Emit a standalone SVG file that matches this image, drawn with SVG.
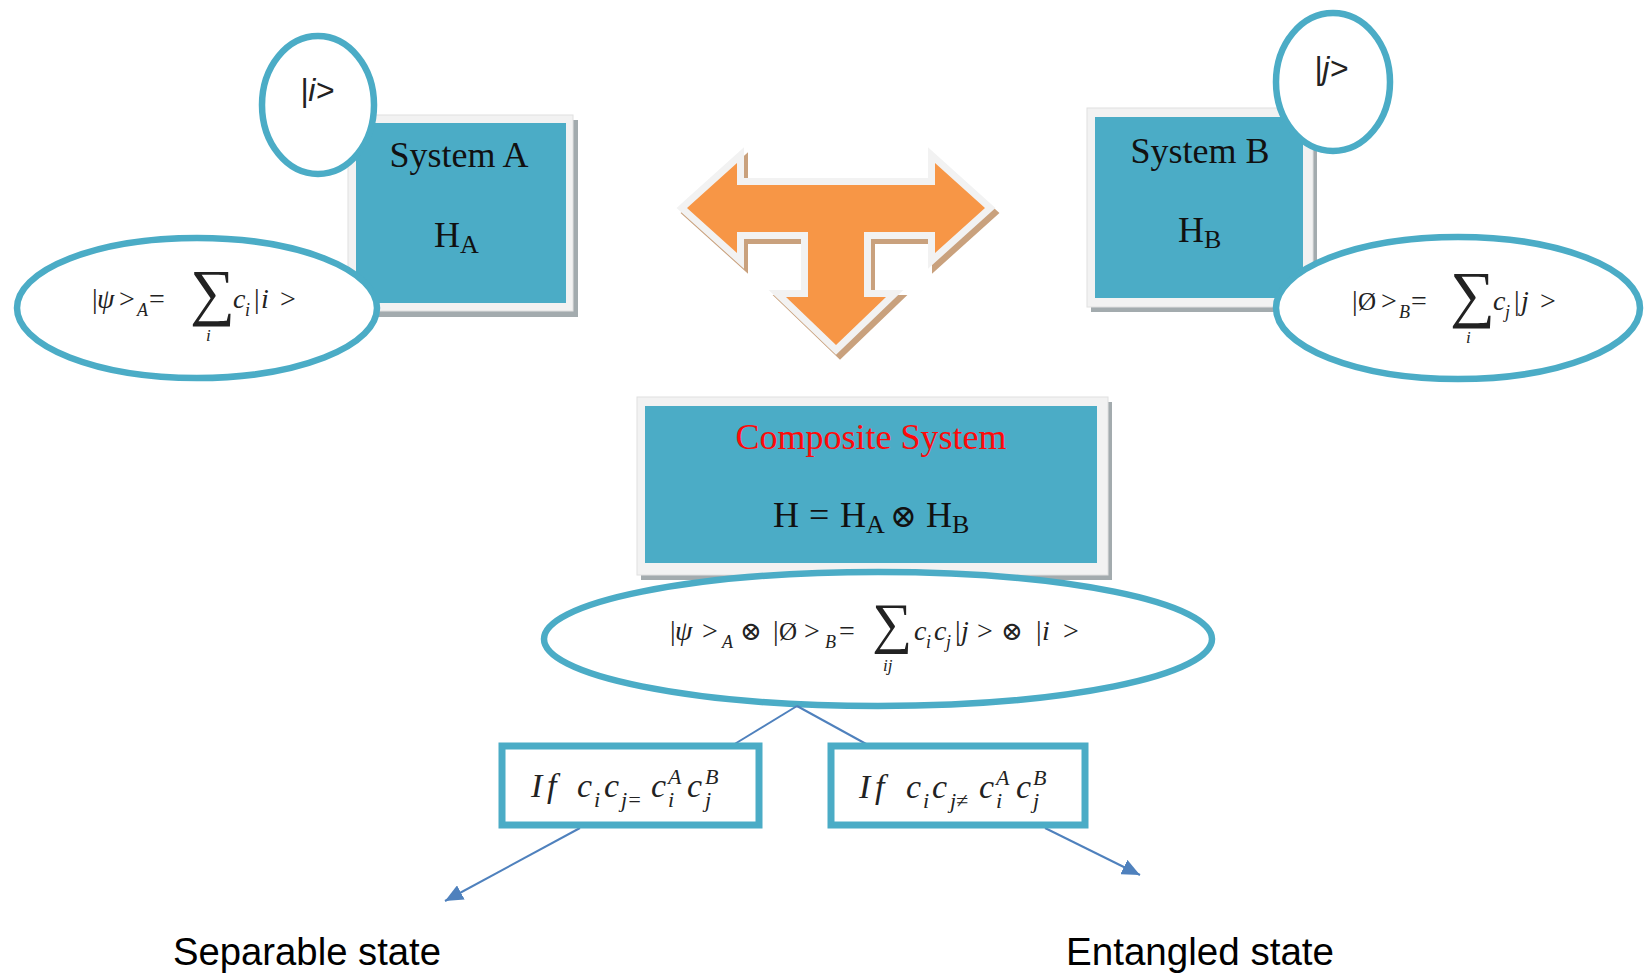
<svg xmlns="http://www.w3.org/2000/svg" width="1647" height="977" viewBox="0 0 1647 977">
<defs>
<style>
.frame{fill:#f2f2f2;stroke:#e0e0e0;stroke-width:1}
.shadow{fill:#a3abae}
.teal{fill:#4BACC6}
.oval{fill:#fff;stroke:#4BACC6;stroke-width:6.5}
.box{fill:#fff;stroke:#4BACC6;stroke-width:7}
.title{font-family:"Liberation Serif","DejaVu Serif",serif;font-size:36px;fill:#111}
.math{font-family:"Liberation Serif","DejaVu Serif",serif;font-style:italic;fill:#222}
.up{font-style:normal}
.ket{font-family:"Liberation Sans","DejaVu Sans",sans-serif;font-style:italic;font-size:32px;fill:#222}
.label{font-family:"Liberation Sans","DejaVu Sans",sans-serif;font-size:38px;fill:#000}
.conn{stroke:#4F81BD;stroke-width:2;fill:none}
</style>
<marker id="ah" viewBox="0 0 18 16" refX="18" refY="8" markerWidth="18" markerHeight="16" markerUnits="userSpaceOnUse" orient="auto">
<path d="M0,0 L18,8 L0,16 Z" fill="#4F81BD"/>
</marker>
</defs>
<rect width="1647" height="977" fill="#fff"/>

<g id="arrow-T">
<path d="M687,208 L737,163 L737,185 L935,185 L935,163 L985,208 L935,253 L935,232 L864,232 L864,297 L886,297 L836,345 L786,297 L808,297 L808,232 L737,232 L737,253 Z" transform="translate(4,5)" fill="#c9a17d" stroke="#c9a17d" stroke-width="14" stroke-linejoin="miter"/>
<path d="M687,208 L737,163 L737,185 L935,185 L935,163 L985,208 L935,253 L935,232 L864,232 L864,297 L886,297 L836,345 L786,297 L808,297 L808,232 L737,232 L737,253 Z" fill="#F79646" stroke="#f2f2f2" stroke-width="14" stroke-linejoin="miter" paint-order="stroke"/>
</g>

<g id="system-a">
<rect class="shadow" x="352" y="120" width="226" height="197"/>
<rect class="frame" x="348" y="115" width="225" height="196"/>
<rect class="teal" x="356" y="123" width="210" height="180"/>
<text class="title" x="459" y="167" text-anchor="middle">System A</text>
<text class="title"><tspan x="434" y="247">H</tspan><tspan x="460" y="253" font-size="26">A</tspan></text>
</g>

<g id="ket-i">
<ellipse class="oval" cx="318" cy="105" rx="56" ry="69"/>
<text class="ket" x="300" y="101">|i&gt;</text>
</g>

<g id="psi-a">
<ellipse class="oval" cx="197" cy="308" rx="180" ry="70"/>
<text class="math" font-size="28"><tspan x="92" y="308" class="up">|</tspan><tspan x="97">ψ</tspan><tspan x="119" class="up">&gt;</tspan><tspan x="137" y="316" font-size="18">A</tspan><tspan x="149" y="308" class="up">=</tspan><tspan x="190" y="313" class="up" font-size="63">∑</tspan><tspan x="206" y="341" font-size="17">i</tspan><tspan x="233" y="308">c</tspan><tspan x="245" y="316" font-size="18">i</tspan><tspan x="254" y="308" class="up">|</tspan><tspan x="261">i</tspan><tspan x="280" class="up">&gt;</tspan></text>
</g>

<g id="system-b">
<rect class="shadow" x="1091" y="113" width="226" height="199"/>
<rect class="frame" x="1087" y="108" width="226" height="199"/>
<rect class="teal" x="1095" y="117" width="208" height="181"/>
<text class="title" x="1200" y="163" text-anchor="middle">System B</text>
<text class="title"><tspan x="1178" y="242">H</tspan><tspan x="1204" y="248" font-size="26">B</tspan></text>
</g>

<g id="ket-j">
<ellipse class="oval" cx="1333" cy="82" rx="57" ry="69"/>
<text class="ket" x="1314" y="79">|j&gt;</text>
</g>

<g id="phi-b">
<ellipse class="oval" cx="1458" cy="308" rx="182" ry="71"/>
<text class="math" font-size="28"><tspan x="1352" y="310" class="up">|</tspan><tspan x="1358" class="up" font-size="25">Ø</tspan><tspan x="1381" class="up">&gt;</tspan><tspan x="1399" y="318" font-size="18">B</tspan><tspan x="1411" y="310" class="up">=</tspan><tspan x="1450" y="315" class="up" font-size="63">∑</tspan><tspan x="1466" y="343" font-size="17">i</tspan><tspan x="1493" y="310">c</tspan><tspan x="1505" y="318" font-size="18">j</tspan><tspan x="1514" y="310" class="up">|</tspan><tspan x="1521">j</tspan><tspan x="1540" class="up">&gt;</tspan></text>
</g>

<g id="composite">
<rect class="shadow" x="641" y="402" width="471" height="178"/>
<rect class="frame" x="637" y="397" width="471" height="178"/>
<rect class="teal" x="645" y="406" width="452" height="157"/>
<text class="title" x="871" y="449" text-anchor="middle" style="fill:#ff0a0a">Composite System</text>
<text class="title"><tspan x="773" y="527">H</tspan><tspan x="809">=</tspan><tspan x="840">H</tspan><tspan x="866" y="533" font-size="26">A</tspan><tspan x="890" y="527" font-size="32">⊗</tspan><tspan x="926">H</tspan><tspan x="952" y="533" font-size="26">B</tspan></text>
</g>

<g id="product-state">
<ellipse class="oval" cx="878" cy="639" rx="334" ry="67"/>
<text class="math" font-size="28"><tspan x="670" y="640" class="up">|</tspan><tspan x="675">ψ</tspan><tspan x="702" class="up">&gt;</tspan><tspan x="722" y="648" font-size="18">A</tspan><tspan x="740" y="640" class="up" font-size="26">⊗</tspan><tspan x="773" class="up">|</tspan><tspan x="779" class="up" font-size="25">Ø</tspan><tspan x="804" class="up">&gt;</tspan><tspan x="825" y="648" font-size="18">B</tspan><tspan x="839" y="640" class="up">=</tspan><tspan x="872" y="642" class="up" font-size="56">∑</tspan><tspan x="883" y="671" font-size="17">ij</tspan><tspan x="914" y="640">c</tspan><tspan x="926" y="648" font-size="18">i</tspan><tspan x="934" y="640">c</tspan><tspan x="946" y="648" font-size="18">j</tspan><tspan x="955" y="640" class="up">|</tspan><tspan x="961">j</tspan><tspan x="977" class="up">&gt;</tspan><tspan x="1001" class="up" font-size="26">⊗</tspan><tspan x="1036" class="up">|</tspan><tspan x="1042">i</tspan><tspan x="1063" class="up">&gt;</tspan></text>
</g>

<g id="connectors">
<line class="conn" x1="797" y1="706" x2="733" y2="745"/>
<line class="conn" x1="797" y1="706" x2="868" y2="745"/>
<line class="conn" x1="580" y1="828" x2="445" y2="901" marker-end="url(#ah)"/>
<line class="conn" x1="1045" y1="828" x2="1140" y2="875" marker-end="url(#ah)"/>
</g>

<g id="if-separable">
<rect class="box" x="502" y="746" width="257" height="79"/>
<text class="math" font-size="34"><tspan x="531" y="797">I</tspan><tspan x="547">f</tspan><tspan x="577">c</tspan><tspan x="594" y="807" font-size="22">i</tspan><tspan x="604" y="797">c</tspan><tspan x="621" y="807" font-size="22">j=</tspan><tspan x="651" y="797">c</tspan><tspan x="668" y="784" font-size="22">A</tspan><tspan x="668" y="807" font-size="22">i</tspan><tspan x="687" y="797">c</tspan><tspan x="705" y="784" font-size="22">B</tspan><tspan x="705" y="807" font-size="22">j</tspan></text>
</g>

<g id="if-entangled">
<rect class="box" x="831" y="746" width="254" height="79"/>
<text class="math" font-size="34"><tspan x="859" y="798">I</tspan><tspan x="875">f</tspan><tspan x="906">c</tspan><tspan x="923" y="808" font-size="22">i</tspan><tspan x="932" y="798">c</tspan><tspan x="950" y="808" font-size="22">j≠</tspan><tspan x="979" y="798">c</tspan><tspan x="996" y="785" font-size="22">A</tspan><tspan x="996" y="808" font-size="22">i</tspan><tspan x="1016" y="798">c</tspan><tspan x="1033" y="785" font-size="22">B</tspan><tspan x="1033" y="808" font-size="22">j</tspan></text>
</g>

<g id="separable-state">
<text class="label" x="173" y="965" textLength="268" lengthAdjust="spacingAndGlyphs">Separable state</text>
</g>
<g id="entangled-state">
<text class="label" x="1066" y="965" textLength="268" lengthAdjust="spacingAndGlyphs">Entangled state</text>
</g>
</svg>
